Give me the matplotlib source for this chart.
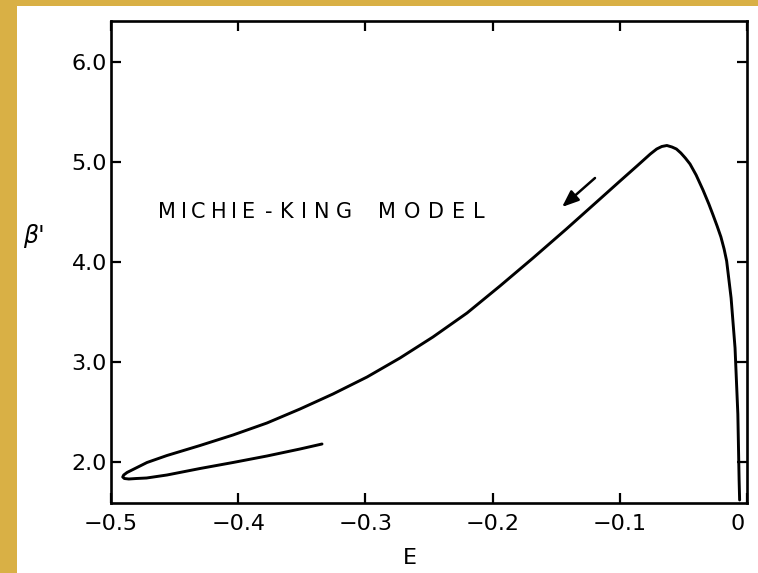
import matplotlib
matplotlib.use("Agg")
import matplotlib.pyplot as plt
import matplotlib.transforms as mtransforms
from matplotlib.patches import Rectangle

# Caloric curve of the Michie-King model: beta' versus binding energy E,
# traced from the shallow end (E -> 0) over the maximum and into the spiral.
energy = [-0.0058, -0.0062, -0.0072, -0.0094, -0.0125, -0.0160, -0.0180,
          -0.0205, -0.0235, -0.0267, -0.0300, -0.0346, -0.0400, -0.0448,
          -0.0485, -0.0520, -0.0555, -0.0590, -0.0630, -0.0670, -0.0710,
          -0.0760, -0.0865, -0.0998, -0.1156, -0.1420, -0.1682, -0.1942,
          -0.2201, -0.2469, -0.2728, -0.2987, -0.3255, -0.3514, -0.3774,
          -0.4041, -0.4300, -0.4560, -0.4717, -0.4827, -0.4874, -0.4900,
          -0.4908, -0.4895, -0.4860, -0.4800, -0.4720, -0.4560, -0.4300,
          -0.4041, -0.3774, -0.3514, -0.3341]
beta = [1.62, 1.82, 2.48, 3.14, 3.64, 4.01, 4.13,
        4.25, 4.36, 4.47, 4.58, 4.72, 4.87, 4.98,
        5.04, 5.09, 5.13, 5.15, 5.165, 5.155, 5.13,
        5.08, 4.96, 4.81, 4.63, 4.33, 4.04, 3.76,
        3.49, 3.25, 3.04, 2.85, 2.68, 2.53, 2.39,
        2.27, 2.165, 2.065, 1.995, 1.925, 1.895, 1.87,
        1.85, 1.835, 1.83, 1.835, 1.84, 1.87, 1.935,
        1.995, 2.06, 2.13, 2.18]

x_ticks = [-0.5, -0.4, -0.3, -0.2, -0.1, 0.0]
x_tick_labels = ["\u22120.5", "\u22120.4", "\u22120.3", "\u22120.2", "\u22120.1", "0"]
y_ticks = [2.0, 3.0, 4.0, 5.0, 6.0]
y_tick_labels = ["2.0", "3.0", "4.0", "5.0", "6.0"]

# words of the model label, their left edges (in E) and widths (px)
title_words = ["MICHIE", "-", "KING", "MODEL"]
title_starts = [-0.4631, -0.3789, -0.3671, -0.2901]
title_widths = [97, 8, 72, 107]

W, H = 758, 573
fig = plt.figure(figsize=(W / 100, H / 100), dpi=100)
fig.patch.set_facecolor("white")

# golden frame strips along the left and top edges
gold = "#D9B045"
fig.add_artist(Rectangle((0, 0), 17 / W, 1, transform=fig.transFigure,
                         facecolor=gold, edgecolor="none", zorder=0))
fig.add_artist(Rectangle((0, 1 - 6 / H), 1, 6 / H, transform=fig.transFigure,
                         facecolor=gold, edgecolor="none", zorder=0))

ax = fig.add_axes([111 / W, 70 / H, 636 / W, 482 / H])
ax.plot(energy, beta, color="black", lw=2.1, solid_capstyle="round",
        solid_joinstyle="round")

ax.set_xlim(-0.5, 0.0)
ax.set_ylim(1.59, 6.41)

for s in ax.spines.values():
    s.set_linewidth(1.9)
    s.set_color("black")

ax.set_xticks(x_ticks)
ax.set_xticklabels(x_tick_labels)
ax.set_yticks(y_ticks)
ax.set_yticklabels(y_tick_labels)
ax.tick_params(axis="both", direction="in", length=7, width=1.6,
               top=True, right=True, labelsize=16, colors="black")
ax.tick_params(axis="x", pad=8)
ax.tick_params(axis="y", pad=3)
# the "0" label sits just inside the right edge
zero_lbl = ax.get_xticklabels()[-1]
zero_lbl.set_transform(zero_lbl.get_transform() +
                       mtransforms.ScaledTranslation(-9 / 100, 0, fig.dpi_scale_trans))

renderer = fig.canvas.get_renderer()


def fitted_word(x, y, s, width_px, **kw):
    """Draw s letter by letter from (x, y), spreading it to width_px pixels."""
    glyphs = [ax.text(x, y, ch, **kw) for ch in s]
    widths = [g.get_window_extent(renderer).width for g in glyphs]
    gap = (width_px - sum(widths)) / max(len(s) - 1, 1) if len(s) > 1 else 0
    dx = 0.0
    for g, w in zip(glyphs, widths):
        g.set_transform(mtransforms.offset_copy(ax.transData, fig=fig,
                                                x=dx, y=0, units="dots"))
        dx += w + gap


title_kw = dict(fontsize=15, ha="left", va="baseline", color="black")
for word, start, width in zip(title_words, title_starts, title_widths):
    fitted_word(start, 4.44, word, width, **title_kw)

ax.annotate("", xy=(-0.1454, 4.55), xytext=(-0.1195, 4.84),
            arrowprops=dict(arrowstyle="-|>,head_length=1.0,head_width=0.4",
                            color="black", lw=1.8, shrinkA=0, shrinkB=0))

fig.text(410 / W, 1 - 558 / H, "E", fontsize=16, ha="center", va="center")
fig.text(34 / W, 1 - 236 / H, "\u03b2'", fontsize=17, style="italic",
         ha="center", va="center")

fig.savefig("out.png", dpi=100, facecolor=fig.get_facecolor())
